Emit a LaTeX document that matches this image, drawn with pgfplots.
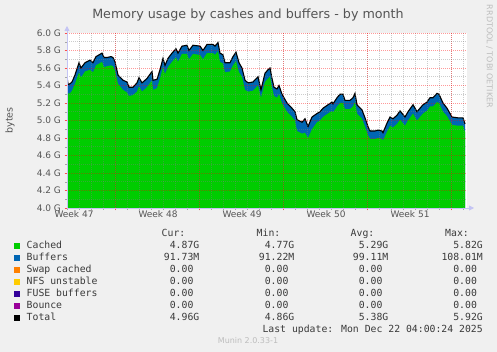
\documentclass[border=0pt]{standalone}
\usepackage{fontspec}
\setmainfont{DejaVu Sans}
\newfontfamily\monof{DejaVu Sans Mono}
\usepackage{pgfplots}
\pgfplotsset{compat=1.18}
\usepackage{pgfplotstable}
\usetikzlibrary{arrows.meta}
\definecolor{bg}{HTML}{F0F0F0}
\definecolor{ccached}{HTML}{00CC00}
\definecolor{cbuf}{HTML}{0066B3}
\definecolor{cswap}{HTML}{FF8000}
\definecolor{cnfs}{HTML}{FFCC00}
\definecolor{cfuse}{HTML}{330099}
\definecolor{cbounce}{HTML}{990099}
\definecolor{axcol}{HTML}{C4C4F4}
\definecolor{txtgray}{HTML}{555555}
\definecolor{legtxt}{HTML}{3A3A3A}
\definecolor{wmark}{HTML}{BDBDBD}

\pgfplotstableread{
x total cached
67 5.51 5.41
68 5.41 5.31
70 5.42 5.31
72 5.44 5.34
75 5.52 5.42
79 5.66 5.55
81 5.60 5.49
85 5.66 5.56
90 5.69 5.58
93 5.66 5.55
96 5.73 5.63
102 5.77 5.67
104 5.72 5.61
107 5.72 5.62
111 5.73 5.63
113 5.72 5.62
115 5.67 5.57
118 5.52 5.42
123 5.46 5.35
127 5.44 5.32
129 5.38 5.28
133 5.38 5.29
137 5.43 5.33
139 5.49 5.39
142 5.43 5.33
147 5.48 5.38
152 5.56 5.46
153 5.46 5.35
157 5.47 5.37
160 5.58 5.48
163 5.71 5.61
165 5.63 5.53
168 5.71 5.61
172 5.77 5.67
176 5.82 5.72
178 5.77 5.67
182 5.85 5.76
187 5.86 5.76
189 5.80 5.70
193 5.86 5.76
200 5.85 5.75
203 5.80 5.70
207 5.87 5.77
213 5.87 5.77
215 5.85 5.75
218 5.89 5.79
220 5.77 5.67
223 5.75 5.65
225 5.66 5.55
230 5.66 5.56
233 5.73 5.63
236 5.78 5.68
239 5.66 5.55
242 5.60 5.50
245 5.46 5.35
248 5.43 5.33
253 5.44 5.34
258 5.50 5.40
261 5.35 5.26
265 5.54 5.44
268 5.58 5.48
270 5.60 5.50
272 5.48 5.38
274 5.38 5.28
277 5.36 5.26
279 5.40 5.30
282 5.30 5.20
287 5.20 5.10
292 5.14 5.04
295 5.10 5.00
297 5.01 4.88
302 4.98 4.85
305 5.02 4.86
308 4.93 4.80
312 5.04 4.90
317 5.08 4.98
320 5.10 5.00
323 5.14 5.04
328 5.18 5.08
332 5.21 5.11
333 5.19 5.09
337 5.26 5.16
340 5.30 5.20
343 5.30 5.20
345 5.23 5.13
350 5.23 5.13
353 5.26 5.16
355 5.31 5.21
357 5.18 5.08
362 5.12 5.02
365 5.03 4.93
368 4.93 4.83
370 4.88 4.79
375 4.88 4.79
378 4.89 4.80
382 4.88 4.79
383 4.86 4.77
387 4.97 4.87
390 5.04 4.94
393 5.02 4.92
397 5.06 4.96
400 5.11 5.01
405 5.04 4.94
408 5.10 5.00
413 5.18 5.08
417 5.10 5.00
420 5.14 5.04
423 5.18 5.08
427 5.21 5.11
430 5.26 5.16
433 5.26 5.16
437 5.31 5.21
439 5.30 5.20
443 5.20 5.10
447 5.14 5.05
452 5.04 4.95
458 5.03 4.94
463 5.03 4.94
465 4.96 4.87
}\memdata

\begin{document}
\begin{tikzpicture}[x=1pt,y=1pt]
\fill[bg] (0,0) rectangle (497,352);
\useasboundingbox (0,0) rectangle (497,352);
\begin{axis}[
  at={(67pt,144pt)}, anchor=south west,
  scale only axis, width=400pt, height=175pt,
  xmin=67, xmax=467, ymin=4, ymax=6,
  axis lines=left,
  axis background/.style={fill=white},
  axis on top,
  x axis line style={draw=axcol, line width=0.8pt, -{Triangle[length=5pt,width=5pt]}, shorten >=-7pt},
  y axis line style={draw=axcol, line width=0.8pt, -{Triangle[length=5pt,width=5pt]}, shorten >=-7pt},
  xtick={115,199,283,367,451},
  xticklabels={},
  minor xtick={67,79,...,463},
  extra x ticks={74,158,242,326,410},
  extra x tick labels={Week 47,Week 48,Week 49,Week 50,Week 51},
  extra x tick style={grid=none, major tick length=0pt},
  ytick={4.0,4.2,4.4,4.6,4.8,5.0,5.2,5.4,5.6,5.8,6.0},
  yticklabels={4.0 G,4.2 G,4.4 G,4.6 G,4.8 G,5.0 G,5.2 G,5.4 G,5.6 G,5.8 G,6.0 G},
  minor ytick={4.1,4.3,4.5,4.7,4.9,5.1,5.3,5.5,5.7,5.9},
  grid=both,
  major grid style={draw=red, opacity=0.4, line width=0.5pt, dash pattern=on 1pt off 1pt},
  minor grid style={draw=gray, opacity=0.4, line width=0.5pt, dash pattern=on 1pt off 1pt},
  tick align=outside,
  major tick length=2.5pt, minor tick length=2pt,
  major tick style={draw=red!70},
  minor tick style={draw=gray!70},
  ticklabel style={font=\fontsize{9}{10}\selectfont, text=txtgray},
  xticklabel style={yshift=1pt},
]
\addplot[draw=none, fill=cbuf] table[x=x, y=total] {\memdata} \closedcycle;
\addplot[draw=none, fill=ccached] table[x=x, y=cached] {\memdata} \closedcycle;
\addplot[black, line width=1.1pt] table[x=x, y=total] {\memdata};
\end{axis}

% title and labels
\node[anchor=base, text=txtgray, font=\fontsize{12.7}{14}\selectfont] at (248,333.7) {Memory usage by cashes and buffers - by month};
\node[rotate=90, text=txtgray, font=\fontsize{9.5}{10}\selectfont] at (10,231.5) {bytes};
\node[rotate=-90, text=wmark, font=\fontsize{8}{9}\selectfont] at (489.5,295.5) {RRDTOOL / TOBI OETIKER};

% legend
\begin{scope}[every node/.style={font=\monof\fontsize{9.8}{11}\selectfont, text=legtxt, inner sep=0pt}]
\node[anchor=base east] at (185.5,115) {Cur:};
\node[anchor=base east] at (280.5,115) {Min:};
\node[anchor=base east] at (374.5,115) {Avg:};
\node[anchor=base east] at (469,115) {Max:};
\foreach \lab/\col/\cu/\mi/\av/\ma [count=\i from 0] in {
  Cached/ccached/4.87G/4.77G/5.29G/5.82G,
  Buffers/cbuf/91.73M/91.22M/99.11M/108.01M,
  Swap cached/cswap/0.00\phantom{G}/0.00\phantom{G}/0.00\phantom{G}/0.00\phantom{G},
  NFS unstable/cnfs/0.00\phantom{G}/0.00\phantom{G}/0.00\phantom{G}/0.00\phantom{G},
  FUSE buffers/cfuse/0.00\phantom{G}/0.00\phantom{G}/0.00\phantom{G}/0.00\phantom{G},
  Bounce/cbounce/0.00\phantom{G}/0.00\phantom{G}/0.00\phantom{G}/0.00\phantom{G},
  Total/black/4.96G/4.86G/5.38G/5.92G}{
  \pgfmathsetmacro{\yb}{103-12*\i}
  \fill[\col] (14,\yb+0.4) rectangle (19.8,\yb+6.2);
  \node[anchor=base west] at (26.5,\yb) {\lab};
  \node[anchor=base east] at (199.5,\yb) {\cu};
  \node[anchor=base east] at (294.5,\yb) {\mi};
  \node[anchor=base east] at (388.5,\yb) {\av};
  \node[anchor=base east] at (483,\yb) {\ma};
}
\node[anchor=base east] at (483,19) {Last update: Mon Dec 22 04:00:24 2025};
\end{scope}
\node[anchor=base, text=wmark, font=\fontsize{8}{9}\selectfont, inner sep=0pt] at (248,8.7) {Munin 2.0.33-1};
\end{tikzpicture}
\end{document}
